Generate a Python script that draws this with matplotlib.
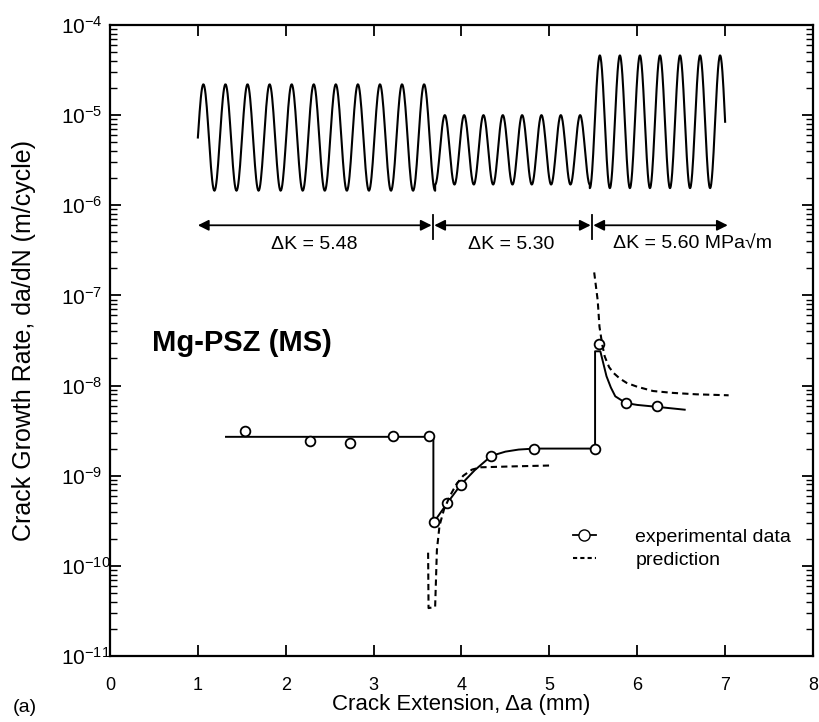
import matplotlib
matplotlib.use('Agg')
import matplotlib.pyplot as plt
from matplotlib.lines import Line2D
import numpy as np

plt.rcParams['font.family'] = ['Liberation Sans', 'DejaVu Sans']
plt.rcParams['mathtext.fontset'] = 'custom'
plt.rcParams['mathtext.rm'] = 'Liberation Sans'
plt.rcParams['mathtext.default'] = 'regular'

# experimental data points (open circles)
exp_x = [1.54, 2.28, 2.73, 3.22, 3.63, 3.69, 3.84, 3.99, 4.34, 4.83, 5.52, 5.57, 5.87, 6.23]
exp_y = [3.1e-9, 2.45e-9, 2.3e-9, 2.75e-9, 2.75e-9, 3.1e-10, 5.0e-10, 7.9e-10,
         1.66e-9, 2.0e-9, 2.0e-9, 2.9e-8, 6.4e-9, 5.9e-9]

# solid curve drawn through the data
fit_x = [1.32, 3.68, 3.68, 3.69, 3.84, 3.99, 4.15, 4.34, 4.5, 4.65, 4.83, 5.52,
         5.52, 5.58, 5.65, 5.70, 5.75, 5.87, 6.0, 6.23, 6.54]
fit_y = [2.7e-9, 2.7e-9, 3.1e-10, 3.1e-10, 5.0e-10, 7.9e-10, 1.15e-9, 1.66e-9, 1.85e-9,
         1.95e-9, 2.0e-9, 2.0e-9, 2.4e-8, 2.4e-8, 1.27e-8, 9.5e-9, 7.6e-9, 6.4e-9,
         6.1e-9, 5.8e-9, 5.4e-9]

# prediction, after the load drop and after the load rise
pred1_x = [3.62, 3.625, 3.70, 3.72, 3.75, 3.80, 3.87, 3.94, 4.02, 4.12, 4.22, 4.6, 5.04]
pred1_y = [1.4e-10, 3.4e-11, 3.5e-11, 1.5e-10, 2.8e-10, 4.2e-10, 6.0e-10, 8.0e-10,
           1.0e-9, 1.17e-9, 1.24e-9, 1.27e-9, 1.3e-9]
pred2_x = [5.51, 5.55, 5.57, 5.60, 5.63, 5.68, 5.73, 5.80, 5.88, 6.0, 6.18, 6.4, 6.67, 7.04]
pred2_y = [1.8e-7, 8.8e-8, 4.5e-8, 2.9e-8, 2.1e-8, 1.6e-8, 1.38e-8, 1.2e-8, 1.07e-8,
           9.7e-9, 8.7e-9, 8.3e-9, 8.0e-9, 7.8e-9]

# schematic loading wave, one entry per block
wave_start = [1.0, 3.70, 5.46]
wave_end = [3.70, 5.46, 7.0]
wave_cycles = [10.75, 8.0, 6.75]
wave_phase = [0.0, -0.25, -0.25]
wave_peak = [2.2e-5, 1.0e-5, 4.6e-5]
wave_trough = [1.45e-6, 1.7e-6, 1.55e-6]

# delta K blocks
block_x0 = [1.0, 3.69, 5.50]
block_x1 = [3.66, 5.47, 7.03]
block_div = [3.67, 5.48]
block_labels = ['ΔK = 5.48', 'ΔK = 5.30', 'ΔK = 5.60 MPa√m']
block_label_x = [2.33, 4.56, 5.72]
block_label_ha = ['center', 'center', 'left']

fig = plt.figure(figsize=(8.19, 7.22), dpi=100)
ax = fig.add_axes([110/819, 66/722, 703/819, 631/722])

ax.set_yscale('log')
ax.set_xlim(0, 8)
ax.set_ylim(1e-11, 1e-4)

# loading wave
wx, wy = [], []
for x0, x1, n, ph, hi, lo in zip(wave_start, wave_end, wave_cycles, wave_phase, wave_peak, wave_trough):
    t = np.linspace(0, 1, 400)
    mid = (np.log10(hi) + np.log10(lo)) / 2
    amp = (np.log10(hi) - np.log10(lo)) / 2
    wx.extend(x0 + (x1 - x0) * t)
    wy.extend(10 ** (mid + amp * np.sin(2 * np.pi * (n * t + ph))))
ax.plot(wx, wy, color='black', lw=1.5)

# block arrows
arrow_y = 6.0e-7
for x0, x1 in zip(block_x0, block_x1):
    ax.annotate('', xy=(x1, arrow_y), xytext=(x0, arrow_y),
                arrowprops=dict(arrowstyle='<|-|>', color='black', lw=1.3,
                                mutation_scale=16, shrinkA=0, shrinkB=0))
for xd in block_div:
    ax.plot([xd, xd], [4.2e-7, 7.8e-7], color='black', lw=1.3)
for lab, lx, ha in zip(block_labels, block_label_x, block_label_ha):
    ax.text(lx, 3.7e-7, lab, ha=ha, va='center', fontsize=14)

# data
ax.plot(fit_x, fit_y, color='black', lw=1.4)
ax.plot(exp_x, exp_y, ls='none', marker='o', ms=7, mfc='white', mec='black', mew=1.3)
ax.plot(pred1_x, pred1_y, color='black', lw=1.5, ls=(0, (3, 2)))
ax.plot(pred2_x, pred2_y, color='black', lw=1.5, ls=(0, (3, 2)))

ax.text(0.48, 2.95e-8, 'Mg-PSZ (MS)', fontsize=21, fontweight='bold', ha='left', va='center')

handles = [Line2D([], [], color='black', lw=1.3, marker='o', ms=8, mfc='white', mec='black'),
           Line2D([], [], color='black', lw=1.5, ls=(0, (2, 1.5)))]
ax.legend(handles, ['experimental data', 'prediction'], loc='upper left',
          bbox_to_anchor=(0.659, 0.202), frameon=False, fontsize=14,
          handlelength=1.15, handletextpad=2.05, labelspacing=0.25,
          borderpad=0, borderaxespad=0)

# axes styling
ax.set_xticks(range(0, 9))
ax.set_yticks([10.0 ** e for e in range(-11, -3)])
ax.set_yticklabels(['$10^{%d}$' % e for e in range(-11, -3)])
ax.yaxis.set_minor_locator(matplotlib.ticker.LogLocator(base=10, subs=np.arange(2, 10), numticks=20))
ax.yaxis.set_minor_formatter(matplotlib.ticker.NullFormatter())
ax.tick_params(axis='both', which='both', direction='in', top=True, right=True, color='black')
ax.tick_params(which='major', length=8, width=1.3)
ax.tick_params(which='minor', length=5, width=1.0)
ax.tick_params(axis='x', labelsize=13, pad=15)
ax.tick_params(axis='y', labelsize=15, pad=35)
for t in ax.yaxis.get_major_ticks():
    t.label1.set_horizontalalignment('left')
for sp in ax.spines.values():
    sp.set_linewidth(1.6)

ax.set_xlabel('Crack Extension, Δa (mm)', fontsize=16)
ax.xaxis.set_label_coords(0.5, -0.061)
ax.xaxis.label.set_va('top')
ax.set_ylabel('Crack Growth Rate, da/dN (m/cycle)', fontsize=18)
ax.yaxis.set_label_coords(-0.105, 0.5)

fig.text(13/819, 1 - 707/722, '(a)', fontsize=14, ha='left', va='center')

fig.savefig('out.png', dpi=100)
